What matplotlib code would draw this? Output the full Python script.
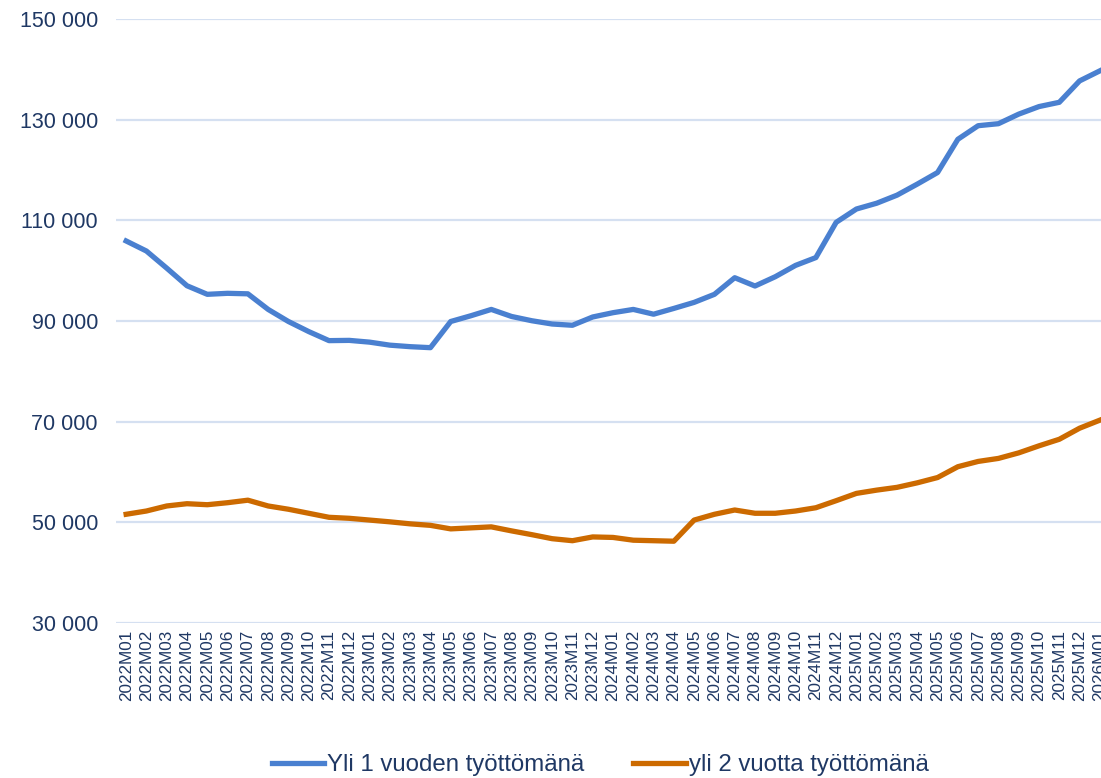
import matplotlib.pyplot as plt

# Kuukaudet 2022M01 - 2026M01
months = [f"{y}M{m:02d}" for y in (2022, 2023, 2024, 2025) for m in range(1, 13)] + ["2026M01"]

over_1_year = [
    105900, 103900, 100500, 97000, 95300, 95500, 95400, 92300, 89900, 87900,
    86100, 86150, 85800, 85200, 84900, 84700, 89900, 91050, 92300, 90900,
    90050, 89400, 89150, 90800, 91650, 92300, 91350, 92500, 93700, 95300,
    98600, 96950, 98800, 101050, 102600, 109600, 112250, 113400, 115000, 117200,
    119500, 126100, 128800, 129200, 131100, 132600, 133450, 137700, 139700,
]
over_2_years = [
    51600, 52250, 53250, 53700, 53500, 53900, 54400, 53250, 52600, 51800,
    51000, 50800, 50450, 50100, 49700, 49400, 48700, 48900, 49100, 48300,
    47550, 46750, 46350, 47100, 47000, 46450, 46350, 46250, 50450, 51600,
    52450, 51800, 51800, 52250, 52900, 54300, 55750, 56400, 56950, 57850,
    58900, 61050, 62100, 62700, 63800, 65200, 66500, 68700, 70300,
]

y_ticks = list(range(30000, 150001, 20000))

blue = '#4A80D0'
orange = '#CC6A00'
text_color = '#1F3864'
grid_color = '#D5E0F1'

plt.rcParams['font.family'] = ['Liberation Sans', 'DejaVu Sans']

fig = plt.figure(figsize=(11.01, 7.78), dpi=100)
# plot area runs slightly past the right edge, as in the original export
ax = fig.add_axes([116 / 1101, 1 - 623 / 778, 994 / 1101, 604 / 778])

x = list(range(len(months)))
ax.plot(x, over_1_year, color=blue, linewidth=3.8, solid_joinstyle='round',
        label='Yli 1 vuoden työttömänä')
ax.plot(x, over_2_years, color=orange, linewidth=3.8, solid_joinstyle='round',
        label='yli 2 vuotta työttömänä')

ax.set_xlim(-0.5, len(months) - 0.5)
ax.set_ylim(30000, 150000)
ax.set_yticks(y_ticks)
ax.set_yticklabels([f"{v:,}".replace(',', ' ') for v in y_ticks])
ax.set_xticks(x)
ax.set_xticklabels(months, rotation=90, va='top', ha='center')

ax.grid(axis='y', color=grid_color, linewidth=1.6)
ax.set_axisbelow(True)
for side in ('top', 'right', 'left', 'bottom'):
    ax.spines[side].set_visible(False)

ax.tick_params(axis='y', length=0, pad=13, labelsize=15.5, labelcolor=text_color)
ax.tick_params(axis='x', length=0, pad=5, labelsize=12.3, labelcolor=text_color)

fig.legend(loc='center', bbox_to_anchor=(0.545, 1 - 765 / 778), ncol=2,
           frameon=False, fontsize=17.3, labelcolor=text_color,
           handlelength=2.2, handletextpad=0.1, columnspacing=2.05)

plt.savefig('out.png', dpi=100)
